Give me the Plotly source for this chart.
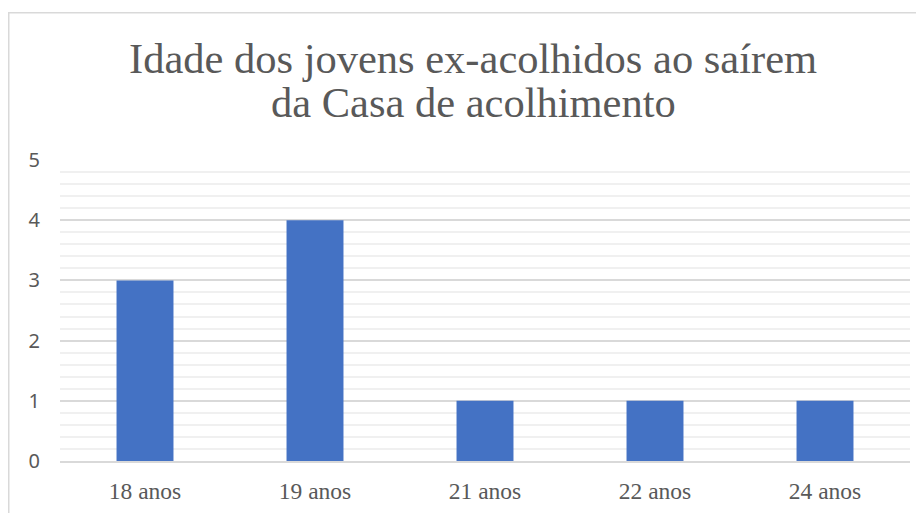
import plotly.graph_objects as go

categories = ["18 anos", "19 anos", "21 anos", "22 anos", "24 anos"]
values = [3, 4, 1, 1, 1]
y_ticks = [0, 1, 2, 3, 4, 5]
title_lines = ["Idade dos jovens ex-acolhidos ao saírem", "da Casa de acolhimento"]

fig = go.Figure(go.Bar(x=categories, y=values, marker=dict(color="#4472C4", line=dict(width=0))))

W, H = 924, 513
L, R, T, B = 52, 22, 152, 60
PW, PH = W - L - R, H - T - B

def px_to_paper_y(py):
    return (H - B - py) / PH

def px_to_paper_x(px):
    return (px - L) / PW

annotations = []
for line, cy in zip(title_lines, [51, 94]):
    annotations.append(dict(
        text=line, xref="paper", yref="paper",
        x=px_to_paper_x(465), y=px_to_paper_y(cy),
        xanchor="center", yanchor="middle", showarrow=False,
        font=dict(family="Liberation Serif", size=42.5, color="#595959"),
    ))

fig.update_layout(
    width=W, height=H,
    margin=dict(l=L, r=R, t=T, b=B),
    paper_bgcolor="white", plot_bgcolor="white",
    bargap=0.665,
    showlegend=False,
    annotations=annotations,
    xaxis=dict(
        showgrid=False, showline=True, linecolor="#d9d9d9", linewidth=1.5,
        ticks="", tickfont=dict(family="Liberation Serif", size=23.5, color="#595959"),
        ticklabelstandoff=8,
    ),
    yaxis=dict(
        range=[0, 5], tickvals=y_ticks, showline=False, zeroline=False,
        gridcolor="#d9d9d9", gridwidth=1.5,
        minor=dict(dtick=0.2, showgrid=True, gridcolor="#f0f0f0", gridwidth=1.5),
        tickfont=dict(family="Noto Sans", size=20, color="#595959"),
        ticklabelstandoff=19,
    ),
    shapes=[dict(
        type="rect", xref="paper", yref="paper",
        x0=px_to_paper_x(0.75), x1=px_to_paper_x(W + 20),
        y0=px_to_paper_y(H + 20), y1=px_to_paper_y(4.75),
        line=dict(color="#d9d9d9", width=1.5), fillcolor="rgba(0,0,0,0)", layer="below",
    )],
)

fig.write_html("out.html")
